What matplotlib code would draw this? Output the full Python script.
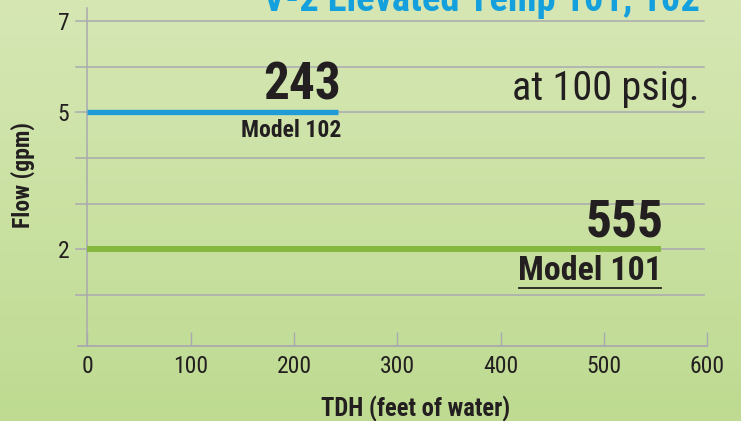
import numpy as np
import matplotlib
matplotlib.use("Agg")
import matplotlib.pyplot as plt

# ---- data ----
models = ["Model 102", "Model 101"]
flow_gpm = [5, 2]
max_tdh = [243, 555]
line_colors = ["#1f9bd7", "#86b840"]
x_ticks = [0, 100, 200, 300, 400, 500, 600]
y_ticks_labeled = [7, 5, 2]
y_grid = [1, 2, 3, 4, 5, 6, 7]
title = "V-2 Elevated Temp 101, 102"
subtitle = "at 100 psig."
xlabel = "TDH (feet of water)"
ylabel = "Flow (gpm)"

COND = ["Roboto Condensed", "DejaVu Sans"]
plt.rcParams['font.family'] = COND

W, H = 741, 421
fig = plt.figure(figsize=(W / 100, H / 100), dpi=100)

# background gradient
bg = fig.add_axes([0, 0, 1, 1], zorder=-10)
top = np.array([0xd6, 0xe7, 0xb4]) / 255
bot = np.array([0xbe, 0xdb, 0x91]) / 255
t = np.linspace(0, 1, 200)[:, None]
grad = top[None, :] * (1 - t) + bot[None, :] * t
bg.imshow(grad[:, None, :].repeat(2, axis=1), aspect='auto', extent=[0, 1, 0, 1])
bg.set_axis_off()

x0, x1 = 87.3, 707.3
ylo, yhi = -0.12, 7.29
ybot_px, ytop_px = 345.7, 8
ax = fig.add_axes([x0 / W, 1 - ybot_px / H, (x1 - x0) / W, (ybot_px - ytop_px) / H])
ax.set_facecolor('none')
ax.set_xlim(0, 600)
ax.set_ylim(ylo, yhi)
for s in ax.spines.values():
    s.set_visible(False)

grid_c = "#a9a9b0"
for y in y_grid:
    ax.axhline(y, xmin=-0.018, xmax=0.995, color=grid_c, lw=1.1, clip_on=False, zorder=1)
ax.axhline(ylo, xmin=-0.015, xmax=1.0, color=grid_c, lw=1.3, clip_on=False, zorder=1)
ax.axvline(0, ymin=0, ymax=1, color=grid_c, lw=1.1, clip_on=False, zorder=1)

ax.set_xticks(x_ticks)
ax.set_xticklabels([str(v) for v in x_ticks])
ax.tick_params(axis='x', direction='in', length=10, width=1.0, color=grid_c,
               pad=7, labelsize=17, labelcolor="#231f20")
ax.set_yticks(y_ticks_labeled)
ax.set_yticklabels([str(v) for v in y_ticks_labeled])
ax.tick_params(axis='y', length=0, pad=13, labelsize=17, labelcolor="#231f20")

txt = "#231f20"
lws = [3.8, 4.3]
for name, fy, tdh, c, lw in zip(models, flow_gpm, max_tdh, line_colors, lws):
    ax.plot([0, tdh], [fy, fy], color=c, lw=lw, solid_capstyle='butt', zorder=3)
    ax.annotate(str(tdh), (tdh, fy), xytext=(2, 1), textcoords='offset points',
                ha='right', va='bottom', fontsize=37, fontweight='bold', color=txt)

ax.annotate(models[0], (max_tdh[0], flow_gpm[0]), xytext=(2, -5), textcoords='offset points',
            ha='right', va='top', fontsize=17, fontweight='bold', color=txt)
ax.annotate(models[1], (max_tdh[1], flow_gpm[1]), xytext=(1, -4), textcoords='offset points',
            ha='right', va='top', fontsize=24.5, fontweight='bold', color=txt)
# underline for Model 101
ul_y = 2 - (288 - 249) / 45.6
ul_x0 = (519 - x0) / (x1 - x0) * 600
ax.plot([ul_x0, max_tdh[1]], [ul_y, ul_y], color=txt, lw=1.3, zorder=3)

fig.text(700 / W, 1 - 100 / H, subtitle, ha='right', va='baseline',
         fontsize=29, color=txt)
fig.text(700 / W, 1 - 11 / H, title, ha='right', va='baseline',
         fontsize=27.7, fontweight='bold', color="#14a0dd")

fig.text(416 / W, 1 - 416 / H, xlabel, ha='center', va='baseline',
         fontsize=17.7, fontweight='bold', color=txt)
fig.text(23 / W, 1 - 175.5 / H, ylabel, ha='center', va='center', rotation=90,
         fontsize=17, fontweight='bold', color=txt)

fig.savefig("out.png", dpi=100)
